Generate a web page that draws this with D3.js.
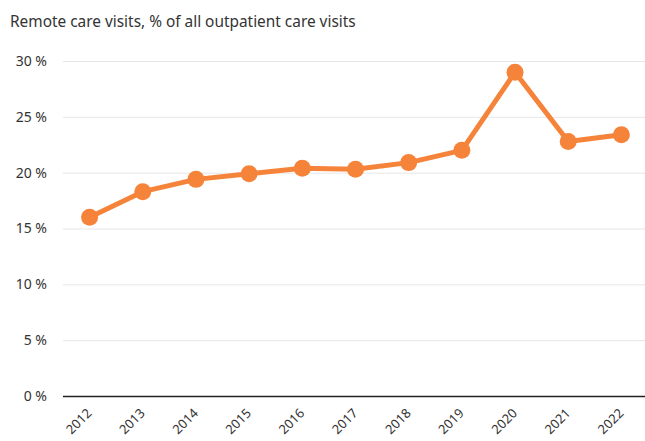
<!DOCTYPE html>
<html><head><meta charset="utf-8">
<script src="https://cdn.jsdelivr.net/npm/d3@7"></script>
<style>body{margin:0;background:#fff;}svg{display:block;font-family:"Noto Sans","Open Sans",sans-serif;}</style>
</head><body>
<svg id="c" width="645" height="441"></svg>
<script>
const years = ["2012","2013","2014","2015","2016","2017","2018","2019","2020","2021","2022"];
const values = [16.0, 18.3, 19.4, 19.9, 20.4, 20.3, 20.9, 22.0, 29.0, 22.8, 23.4];
const yTicks = [0, 5, 10, 15, 20, 25, 30];
const title = "Remote care visits, % of all outpatient care visits";

(function () {
const svg = d3.select("#c");
const mLeft = 63, mRight = 648, mTop = 61, mBottom = 396;
const x = d3.scaleBand().domain(years).range([mLeft, mRight]);
const y = d3.scaleLinear().domain([0, 30]).range([mBottom, mTop]);

svg.append("text").attr("x", 10).attr("y", 27).attr("font-size", 15.4).attr("fill", "#333").text(title);

const ya = svg.append("g").attr("transform", `translate(${mLeft},0)`)
  .call(d3.axisLeft(y).tickValues(yTicks).tickSize(-(mRight - mLeft)).tickFormat(d => d + " %"));
ya.select(".domain").remove();
ya.selectAll(".tick line").attr("stroke", d => d === 0 ? "#222" : "#e6e6e6").attr("stroke-width", d => d === 0 ? 1.3 : 1);
ya.selectAll(".tick text").attr("x", -16).attr("font-size", 14).attr("fill", "#333").attr("font-family", "Noto Sans, sans-serif");

const xa = svg.append("g").attr("transform", `translate(0,${mBottom})`)
  .call(d3.axisBottom(x).tickSize(0));
xa.select(".domain").remove();
xa.selectAll(".tick text").attr("font-size", 13).attr("fill", "#333").attr("font-family", "Noto Sans, sans-serif")
  .attr("text-anchor", "end").attr("dy", 0).attr("y", 0)
  .attr("transform", "translate(3,18) rotate(-45)");

const cx = d => x(d) + x.bandwidth() / 2;
svg.append("path").datum(values.map((v, i) => [cx(years[i]), y(v)]))
  .attr("d", d3.line()).attr("fill", "none").attr("stroke", "#f5843a").attr("stroke-width", 5).attr("stroke-linejoin", "round");
svg.selectAll("circle.p").data(values).join("circle").attr("class", "p")
  .attr("cx", (d, i) => cx(years[i])).attr("cy", d => y(d)).attr("r", 8.5).attr("fill", "#f5843a");
})();
</script>
</body></html>
